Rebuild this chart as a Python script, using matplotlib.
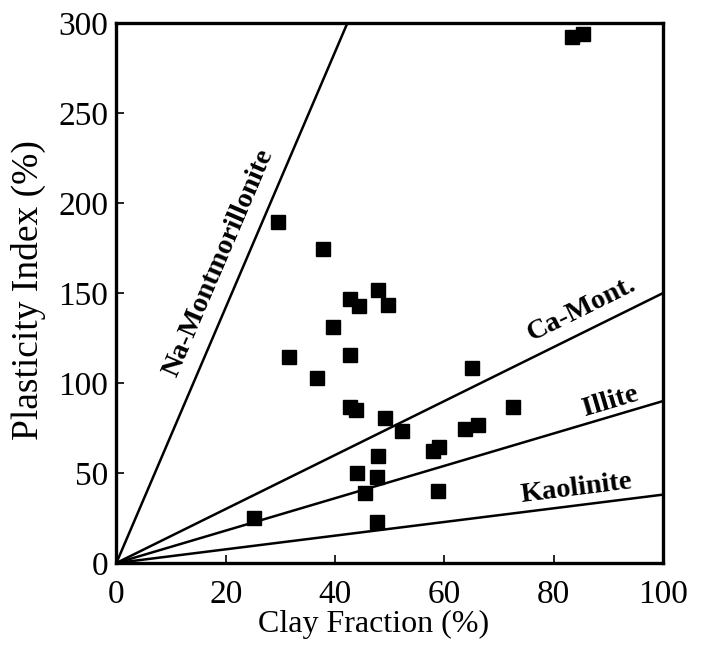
import numpy as np
import matplotlib
matplotlib.use("Agg")
import matplotlib.pyplot as plt

# Data
clay_fraction = [25.1, 29.6, 31.6, 37.8, 36.7, 39.7, 42.8, 44.3, 47.9, 49.7,
                 42.8, 42.7, 43.8, 49.2, 52.2, 47.8, 44.0, 47.7, 45.4, 47.6,
                 58.0, 59.0, 58.8, 63.8, 66.1, 65.1, 72.5, 83.4, 85.4]
plasticity_index = [25.0, 189.3, 114.6, 174.2, 102.9, 131.1, 146.9, 142.6, 151.6, 143.3,
                    115.5, 86.4, 84.8, 80.3, 73.2, 59.2, 49.8, 47.9, 39.1, 23.0,
                    62.4, 64.3, 40.0, 74.7, 76.4, 108.1, 86.7, 292.5, 293.9]
mineral_names = ["Na-Montmorillonite", "Ca-Mont.", "Illite", "Kaolinite"]
activity = [7.1, 1.5, 0.9, 0.38]
label_pos = [(18.7, 167.0), (85.1, 141.0), (90.4, 89.5), (84.2, 41.5)]

xticks = [0, 20, 40, 60, 80, 100]
yticks = [0, 50, 100, 150, 200, 250, 300]

plt.rcParams['font.family'] = ['Liberation Serif', 'DejaVu Serif']

fig = plt.figure(figsize=(7.01, 6.49), dpi=100)
ax = fig.add_axes([0.166, 0.1325, 0.780, 0.832])
ax.set_xlim(0, 100)
ax.set_ylim(0, 300)

xs = np.array([0, 100])
for a in activity:
    ax.plot(xs, a * xs, color='black', lw=1.8, solid_capstyle='butt', clip_on=True)

ax.plot(clay_fraction, plasticity_index, linestyle='none', marker='s',
        ms=9.5, color='black', mec='black')

fig.canvas.draw()
for name, a, (lx, ly) in zip(mineral_names, activity, label_pos):
    p0 = ax.transData.transform((0, 0))
    p1 = ax.transData.transform((10, 10 * a))
    ang = np.degrees(np.arctan2(p1[1] - p0[1], p1[0] - p0[0]))
    ax.text(lx, ly, name, rotation=ang, rotation_mode='anchor',
            ha='center', va='center', fontsize=20.5, fontweight='bold')

ax.set_xticks(xticks)
ax.set_yticks(yticks)
ax.tick_params(direction='in', length=6, width=1.2, labelsize=24)
ax.tick_params(axis='x', pad=12)
ax.tick_params(axis='y', pad=6)
for s in ax.spines.values():
    s.set_linewidth(2.4)

ax.set_xlabel('Clay Fraction (%)', fontsize=23)
ax.xaxis.set_label_coords(0.47, -0.087)
ax.set_ylabel('Plasticity Index (%)', fontsize=27)
ax.yaxis.set_label_coords(-0.128, 0.505)

fig.savefig('out.png', dpi=100, facecolor='white')
